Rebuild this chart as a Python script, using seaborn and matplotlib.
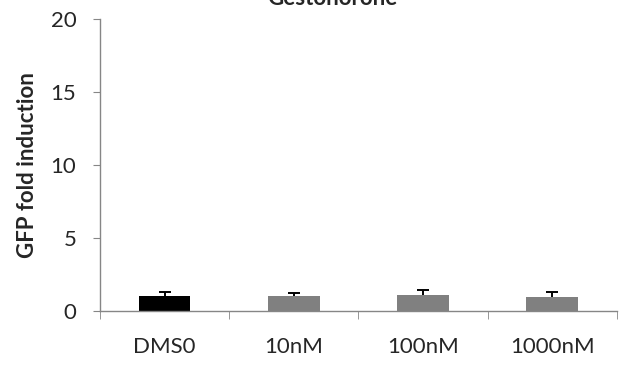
import numpy as np
import pandas as pd
import matplotlib
matplotlib.use('Agg')
import matplotlib.pyplot as plt
import seaborn as sns

categories = ['DMS0', '10nM', '100nM', '1000nM']
fold_induction = [0.98, 0.97, 1.1, 0.91]
error_plus = [0.28, 0.22, 0.29, 0.37]
bar_colors = ['#000000', '#808080', '#808080', '#808080']

df = pd.DataFrame({'condition': categories, 'fold': fold_induction})

sns.set_style('white')
plt.rcParams['font.family'] = ['Lato', 'DejaVu Sans']

fig = plt.figure(figsize=(6.3, 3.65), dpi=100)
ax = fig.add_axes([0.1587, 0.149, 0.8206, 0.799])

sns.barplot(data=df, x='condition', y='fold', hue='condition',
            palette=bar_colors, width=0.4, legend=False, ax=ax,
            edgecolor='none', errorbar=None)

# plus-only error bars, like Excel
xpos = np.arange(len(categories))
tops = np.array(fold_induction) + np.array(error_plus)
ax.vlines(xpos, fold_induction, tops, color='black', linewidth=1.4)
ax.plot(xpos, tops, linestyle='none', marker='_', markersize=9,
        markeredgewidth=1.4, color='black')

ax.set_ylim(0, 20)
ax.set_yticks([0, 5, 10, 15, 20])
ax.set_xlim(-0.5, 3.5)
ax.set_xticks(np.arange(-0.5, 4, 1), minor=True)

for side in ['top', 'right']:
    ax.spines[side].set_visible(False)
for side in ['left', 'bottom']:
    ax.spines[side].set_color('#868686')
    ax.spines[side].set_linewidth(1.0)

ax.tick_params(axis='y', which='major', direction='out', length=5, color='#868686',
               left=True, labelsize=16, pad=12)
ax.tick_params(axis='x', which='major', length=0, labelsize=16, pad=19)
ax.tick_params(axis='x', which='minor', direction='out', length=6, color='#868686',
               bottom=True)

ax.set_xlabel('')
ax.set_ylabel('GFP fold induction', fontsize=16, fontweight='bold', va='center')
ax.yaxis.set_label_coords(-0.141, 0.5)

fig.text(0.527, 0.986, 'Gestonorone', ha='center', va='baseline',
         fontsize=16, fontweight='bold')

fig.savefig('out.png', dpi=100)
